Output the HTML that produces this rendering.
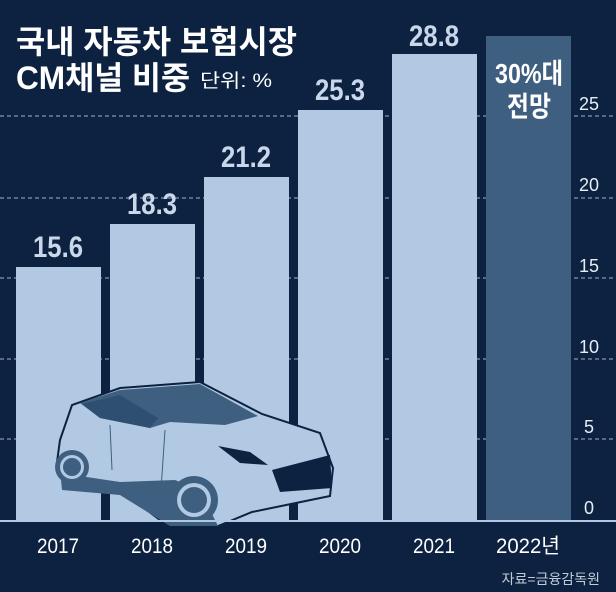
<!DOCTYPE html>
<html><head><meta charset="utf-8"><style>
body{margin:0;width:616px;height:592px;background:#0d2240;overflow:hidden;font-family:"Liberation Sans","Noto Sans CJK KR",sans-serif;}
svg{display:block}
</style></head><body>
<svg width="616" height="592" xmlns="http://www.w3.org/2000/svg">
<rect width="616" height="592" fill="#0d2240"/>
<g stroke="#9fb3cc" stroke-width="1" stroke-dasharray="4,3">
<line x1="0" y1="116" x2="616" y2="116"/><line x1="0" y1="198" x2="616" y2="198"/>
<line x1="0" y1="278" x2="616" y2="278"/><line x1="0" y1="359" x2="616" y2="359"/>
<line x1="0" y1="439" x2="616" y2="439"/>
</g>
<g fill="#b1c9e3">
<rect x="16" y="267" width="85" height="253"/>
<rect x="110" y="224" width="85" height="296"/>
<rect x="204" y="177" width="85" height="343"/>
<rect x="298" y="110" width="85" height="410"/>
<rect x="392" y="54" width="85" height="466"/>
</g>
<rect x="486" y="36" width="85" height="484" fill="#3f5f80"/>
<!-- car -->
<path d="M60,440 L72,405 L120,388 L200,382 L262,414 L320,433 L333,468 L330,496 L252,512 L218,526 L168,526 L120,490 L70,488 L57,462 Z" fill="#b1c9e3" stroke="#0d2240" stroke-width="2"/>
<path d="M80,403 L120,390 L200,384 L258,416 L225,425 L170,422 L150,428 L100,418 Z" fill="#3f5f80"/>
<path d="M100,418 L150,428 L158,418 L120,395 L82,404 Z" fill="#2f4f72"/>
<path d="M110,425 L112,470 M165,430 L160,505" stroke="#3f5f80" stroke-width="1" fill="none"/>
<path d="M218,446 L250,452 L268,465 L240,463 Z" fill="#0d2240"/>
<path d="M272,470 L330,455 L332,488 L280,492 Z" fill="#0d2240"/>
<path d="M60,470 L62,490 L120,495 L170,526 L218,526 L200,490 L175,480 L120,482 L80,476 Z" fill="#3f5f80"/>
<circle cx="72" cy="467" r="17" fill="#3f5f80"/><circle cx="72" cy="467" r="12" fill="#b1c9e3"/><circle cx="72" cy="467" r="9" fill="#3f5f80"/>
<circle cx="194" cy="500" r="24" fill="#3f5f80"/><circle cx="194" cy="500" r="17" fill="#b1c9e3"/><circle cx="194" cy="500" r="13" fill="#3f5f80"/>
<line x1="0" y1="521" x2="616" y2="521" stroke="#b1c9e3" stroke-width="2"/>
<g fill="#e6edf5" font-size="18" text-anchor="middle">
<text x="589" y="110">25</text><text x="589" y="191">20</text><text x="589" y="272">15</text>
<text x="589" y="353">10</text><text x="589" y="433">5</text><text x="589" y="514">0</text>
</g>
<g fill="#c8d8ea" font-size="30" font-weight="bold" text-anchor="middle" lengthAdjust="spacingAndGlyphs">
<text x="58" y="257" textLength="50" lengthAdjust="spacingAndGlyphs">15.6</text>
<text x="152" y="214" textLength="50" lengthAdjust="spacingAndGlyphs">18.3</text>
<text x="246" y="167" textLength="50" lengthAdjust="spacingAndGlyphs">21.2</text>
<text x="340" y="100" textLength="50" lengthAdjust="spacingAndGlyphs">25.3</text>
<text x="434" y="46" textLength="50" lengthAdjust="spacingAndGlyphs">28.8</text>
</g>
<g fill="#ffffff" font-size="28" font-weight="bold" text-anchor="middle">
<text x="529" y="83" textLength="68" lengthAdjust="spacingAndGlyphs">30%대</text>
<text x="529" y="116" textLength="44" lengthAdjust="spacingAndGlyphs">전망</text>
</g>
<g fill="#ffffff" font-size="21" text-anchor="middle">
<text x="58" y="553" textLength="42" lengthAdjust="spacingAndGlyphs">2017</text>
<text x="152" y="553" textLength="42" lengthAdjust="spacingAndGlyphs">2018</text>
<text x="246" y="553" textLength="42" lengthAdjust="spacingAndGlyphs">2019</text>
<text x="340" y="553" textLength="42" lengthAdjust="spacingAndGlyphs">2020</text>
<text x="434" y="553" textLength="42" lengthAdjust="spacingAndGlyphs">2021</text>
<text x="528" y="553" textLength="64" lengthAdjust="spacingAndGlyphs">2022년</text>
</g>
<text x="600" y="584" fill="#c0ccd9" font-size="14" text-anchor="end">자료=금융감독원</text>
<text x="16" y="53" fill="#ffffff" font-size="32" font-weight="bold" textLength="281" lengthAdjust="spacingAndGlyphs">국내 자동차 보험시장</text>
<text x="16" y="89" fill="#ffffff" font-size="32" font-weight="bold" textLength="174" lengthAdjust="spacingAndGlyphs">CM채널 비중</text>
<text x="200" y="87" fill="#ffffff" font-size="19" textLength="72" lengthAdjust="spacingAndGlyphs">단위: %</text>
</svg>
</body></html>
